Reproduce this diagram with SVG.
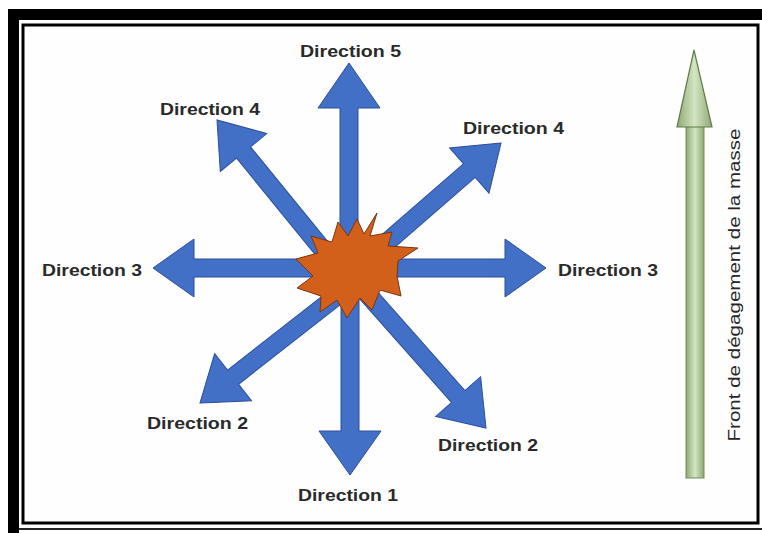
<svg xmlns="http://www.w3.org/2000/svg" width="762" height="533" viewBox="0 0 762 533">
<defs>
<style>
.lbl{font-family:"Liberation Sans",Arial,sans-serif;font-weight:bold;font-size:16px;fill:#2a2a2a;}
.vlbl{font-family:"Liberation Sans",Arial,sans-serif;font-size:16px;fill:#262626;}
.arr{fill:#4270c6;stroke:#2b4f9e;stroke-width:1;stroke-linejoin:miter;}
</style>
<linearGradient id="gShaft" x1="0" y1="0" x2="1" y2="0">
<stop offset="0" stop-color="#8ea874"/>
<stop offset="0.5" stop-color="#d3e5c2"/>
<stop offset="1" stop-color="#8ea874"/>
</linearGradient>
</defs>
<rect x="0" y="0" width="762" height="533" fill="#ffffff"/>
<g id="frame">
<rect x="8" y="9" width="754" height="11" fill="#000"/>
<rect x="8" y="9" width="11" height="524" fill="#000"/>
<rect x="23" y="25" width="735" height="498" fill="#fefefe" stroke="#000" stroke-width="3"/>
<line x1="19" y1="529" x2="762" y2="529" stroke="#222" stroke-width="2"/>
</g>
<g id="arrows">
<polygon class="arr" transform="translate(349,63) rotate(-90)" points="0,0 -45,-31 -45,-9 -200,-9 -200,9 -45,9 -45,31"/>
<polygon class="arr" transform="translate(350,475) rotate(90)" points="0,0 -44,-31 -44,-9 -205,-9 -205,9 -44,9 -44,31"/>
<polygon class="arr" transform="translate(153,268) rotate(180)" points="0,0 -41,-29 -41,-9 -195,-9 -195,9 -41,9 -41,29"/>
<polygon class="arr" transform="translate(546,268) rotate(0)" points="0,0 -41,-29 -41,-9 -195,-9 -195,9 -41,9 -41,29"/>
<polygon class="arr" transform="translate(217,120) rotate(-129.2)" points="0,0 -42,-30 -42,-9 -190,-9 -190,9 -42,9 -42,30"/>
<polygon class="arr" transform="translate(501,143) rotate(-41)" points="0,0 -42,-30 -42,-9 -190,-9 -190,9 -42,9 -42,30"/>
<polygon class="arr" transform="translate(200,403) rotate(142)" points="0,0 -42,-30 -42,-9 -195,-9 -195,9 -42,9 -42,30"/>
<polygon class="arr" transform="translate(486,428) rotate(48.5)" points="0,0 -42,-30 -42,-9 -200,-9 -200,9 -42,9 -42,30"/>
</g>
<g id="star">
<polygon fill="#d2601a" stroke="#7a3510" stroke-width="1" points="377,213 370,236 392,232 388,246 418,248 398,261 397,276 401,296 380,290 372,310 360,298 347,318 337,300 320,312 321,296 297,288 313,276 296,259 318,253 311,236 332,242 338,222 348,236 357,219 364,234"/>
</g>
<g id="front">
<rect x="686" y="122" width="18" height="356" fill="url(#gShaft)" stroke="#6f8d55" stroke-width="1"/>
<polygon points="694,50 712,127 677,127" fill="url(#gShaft)" stroke="#5f7d48" stroke-width="1.2"/>
<text class="vlbl" transform="translate(740,285) rotate(-90)" text-anchor="middle" textLength="313" lengthAdjust="spacingAndGlyphs">Front de dégagement de la masse</text>
</g>
<g id="label-d5"><text class="lbl" x="300" y="57" textLength="101" lengthAdjust="spacingAndGlyphs">Direction 5</text></g>
<g id="label-d4-left"><text class="lbl" x="160" y="115" textLength="100" lengthAdjust="spacingAndGlyphs">Direction 4</text></g>
<g id="label-d4-right"><text class="lbl" x="463" y="134" textLength="101" lengthAdjust="spacingAndGlyphs">Direction 4</text></g>
<g id="label-d3-left"><text class="lbl" x="42" y="276" textLength="100" lengthAdjust="spacingAndGlyphs">Direction 3</text></g>
<g id="label-d3-right"><text class="lbl" x="558" y="276" textLength="100" lengthAdjust="spacingAndGlyphs">Direction 3</text></g>
<g id="label-d2-left"><text class="lbl" x="147" y="429" textLength="101" lengthAdjust="spacingAndGlyphs">Direction 2</text></g>
<g id="label-d2-right"><text class="lbl" x="438" y="451" textLength="100" lengthAdjust="spacingAndGlyphs">Direction 2</text></g>
<g id="label-d1"><text class="lbl" x="298" y="501" textLength="100" lengthAdjust="spacingAndGlyphs">Direction 1</text></g>
</svg>
